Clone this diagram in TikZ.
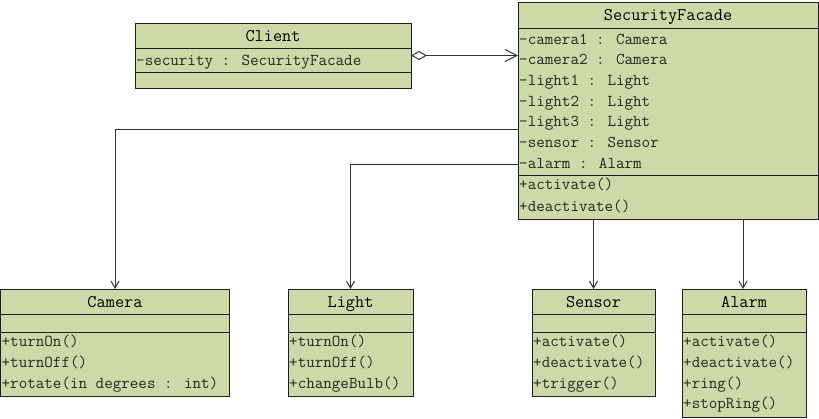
\documentclass[tikz,border=0pt]{standalone}
\usepackage{fontspec}
\usetikzlibrary{arrows.meta}
\definecolor{umlfill}{RGB}{204,218,168}
\definecolor{umlline}{RGB}{30,30,30}
\newcommand{\bodyfont}{\ttfamily\fontsize{16.6}{19}\selectfont}
\newcommand{\titlefont}{\ttfamily\fontsize{17.8}{20}\selectfont}
\tikzset{
  cls/.style={draw=umlline, fill=umlfill, line width=1pt, inner sep=0pt, outer sep=0pt, anchor=north west},
  sep/.style={draw=umlline, line width=1pt},
  txt/.style={anchor=base west, inner sep=0pt, font=\bodyfont, text=black!85},
  ttl/.style={anchor=base, inner sep=0pt, font=\titlefont, text=black},
  dep/.style={draw=black!80, line width=1pt, -{Straight Barb[length=7pt,width=8pt]}},
  agg/.style={draw=black!80, line width=1pt, {Diamond[open,length=16pt,width=9pt]}-{Straight Barb[length=12pt,width=12pt]}}
}
\begin{document}
\begin{tikzpicture}[x=1pt,y=-1pt]
\useasboundingbox (0,0) rectangle (819,418);

% Client
\node[cls, minimum width=276pt, minimum height=65pt] (client) at (135,23) {};
\draw[sep] (client.west |- 0,48) -- (client.east |- 0,48);
\draw[sep] (client.west |- 0,72) -- (client.east |- 0,72);
\node[ttl] (clientT) at (273,41) {Client};
\node[txt] (clientA) at (136,65) {-security : SecurityFacade};

% SecurityFacade
\node[cls, minimum width=300pt, minimum height=217pt] (sf) at (518,2) {};
\draw[sep] (sf.west |- 0,28) -- (sf.east |- 0,28);
\draw[sep] (sf.west |- 0,175) -- (sf.east |- 0,175);
\node[ttl] (sfT) at (668,20) {SecurityFacade};
\node[txt] (sfA1) at (519,44) {-camera1 : Camera};
\node[txt] (sfA2) at (519,64.7) {-camera2 : Camera};
\node[txt] (sfA3) at (519,85.4) {-light1 : Light};
\node[txt] (sfA4) at (519,106.1) {-light2 : Light};
\node[txt] (sfA5) at (519,126.8) {-light3 : Light};
\node[txt] (sfA6) at (519,147.5) {-sensor : Sensor};
\node[txt] (sfA7) at (519,168.2) {-alarm : Alarm};
\node[txt] (sfO1) at (519,189.5) {+activate()};
\node[txt] (sfO2) at (519,211) {+deactivate()};

% Camera
\node[cls, minimum width=229pt, minimum height=107pt] (camera) at (0.5,289) {};
\draw[sep] (camera.west |- 0,314) -- (camera.east |- 0,314);
\draw[sep] (camera.west |- 0,332) -- (camera.east |- 0,332);
\node[ttl] (cameraT) at (camera.north |- 0,307) {Camera};
\node[txt] (cameraO1) at (1.5,346.7) {+turnOn()};
\node[txt] (cameraO2) at (1.5,367.4) {+turnOff()};
\node[txt] (cameraO3) at (1.5,388.1) {+rotate(in degrees : int)};

% Light
\node[cls, minimum width=125pt, minimum height=107pt] (light) at (288,289) {};
\draw[sep] (light.west |- 0,314) -- (light.east |- 0,314);
\draw[sep] (light.west |- 0,332) -- (light.east |- 0,332);
\node[ttl] (lightT) at (light.north |- 0,307) {Light};
\node[txt] (lightO1) at (289,346.7) {+turnOn()};
\node[txt] (lightO2) at (289,367.4) {+turnOff()};
\node[txt] (lightO3) at (289,388.1) {+changeBulb()};

% Sensor
\node[cls, minimum width=123pt, minimum height=107pt] (sensor) at (532,289) {};
\draw[sep] (sensor.west |- 0,314) -- (sensor.east |- 0,314);
\draw[sep] (sensor.west |- 0,332) -- (sensor.east |- 0,332);
\node[ttl] (sensorT) at (sensor.north |- 0,307) {Sensor};
\node[txt] (sensorO1) at (533,346.7) {+activate()};
\node[txt] (sensorO2) at (533,367.4) {+deactivate()};
\node[txt] (sensorO3) at (533,388.1) {+trigger()};

% Alarm
\node[cls, minimum width=124pt, minimum height=128pt] (alarm) at (682,289) {};
\draw[sep] (alarm.west |- 0,314) -- (alarm.east |- 0,314);
\draw[sep] (alarm.west |- 0,332) -- (alarm.east |- 0,332);
\node[ttl] (alarmT) at (alarm.north |- 0,307) {Alarm};
\node[txt] (alarmO1) at (683,346.7) {+activate()};
\node[txt] (alarmO2) at (683,367.4) {+deactivate()};
\node[txt] (alarmO3) at (683,388.1) {+ring()};
\node[txt] (alarmO4) at (683,408.8) {+stopRing()};

% Connectors
\draw[agg] (client.east) -- (sf.west |- client.east);
\draw[dep] (sf.west |- 0,129) -| (camera.north);
\draw[dep] (sf.west |- 0,164.5) -| (light.north);
\draw[dep] (sensor.north |- sf.south) -- (sensor.north);
\coordinate (alarmTop) at (743,289);
\draw[dep] (alarmTop |- sf.south) -- (alarmTop);
\end{tikzpicture}
\end{document}
